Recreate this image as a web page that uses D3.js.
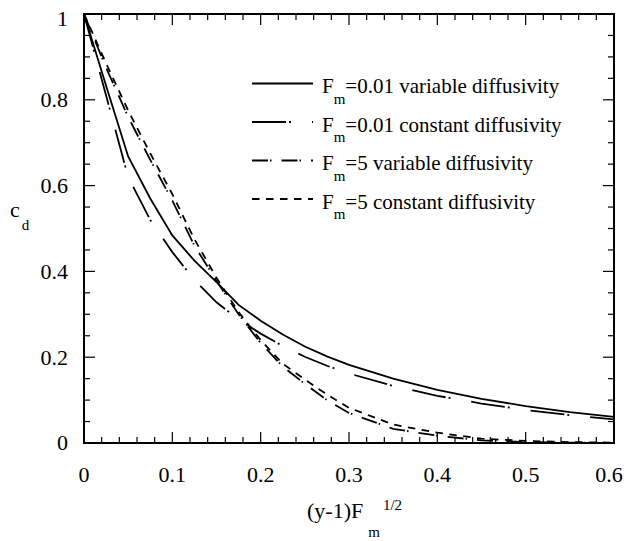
<!DOCTYPE html>
<html>
<head>
<meta charset="utf-8">
<script src="https://d3js.org/d3.v7.min.js"></script>
<style>
  body { margin: 0; background: #fff; }
  svg text { font-family: "Liberation Serif", "Times New Roman", serif; fill: #000; }
</style>
</head>
<body>
<script>
// x positions, (y-1)Fm^1/2
var xGrid = [0, 0.025, 0.05, 0.075, 0.1, 0.125, 0.15, 0.175, 0.2, 0.225, 0.25, 0.275, 0.3, 0.35, 0.4, 0.45, 0.5, 0.55, 0.6];

// c_d for each case
var cLowVar   = [1, 0.833, 0.668, 0.57, 0.484, 0.425, 0.375, 0.322, 0.285, 0.253, 0.225, 0.202, 0.182, 0.150, 0.124, 0.103, 0.086, 0.072, 0.061];
var cLowConst = [1, 0.81, 0.62, 0.52, 0.445, 0.38, 0.328, 0.288, 0.255, 0.226, 0.201, 0.180, 0.162, 0.133, 0.110, 0.092, 0.077, 0.065, 0.055];
var cHighVar   = [1, 0.875, 0.76, 0.66, 0.565, 0.46, 0.378, 0.30, 0.233, 0.178, 0.138, 0.10, 0.07, 0.033, 0.017, 0.006, 0.002, 0.001, 0];
var cHighConst = [1, 0.885, 0.775, 0.675, 0.58, 0.475, 0.385, 0.305, 0.24, 0.185, 0.148, 0.113, 0.082, 0.043, 0.024, 0.010, 0.005, 0.002, 0.001];

var legendValues = ["0.01", "0.01", "5", "5"];
var legendTexts = ["variable diffusivity", "constant diffusivity", "variable diffusivity", "constant diffusivity"];

var xTicks = [0, 0.1, 0.2, 0.3, 0.4, 0.5, 0.6];
var yTicks = [0, 0.2, 0.4, 0.6, 0.8, 1];

var width = 630, height = 541;
var plotLeft = 84, plotRight = 614, plotTop = 14, plotBottom = 443;

var svg = d3.select("body").append("svg")
    .attr("width", width)
    .attr("height", height);

var x = d3.scaleLinear().domain([0, 0.6]).range([plotLeft, plotRight]);
var y = d3.scaleLinear().domain([0, 1]).range([plotBottom, plotTop]);

// dash styles for the four curves
var series = [
    { c: cLowVar, dash: null },
    { c: cLowConst, dash: "34,3,2,21" },
    { c: cHighVar, dash: "16,2,1.5,10" },
    { c: cHighConst, dash: "7.5,6.5" }
];

svg.append("clipPath").attr("id", "plotclip")
  .append("rect")
    .attr("x", plotLeft).attr("y", plotTop)
    .attr("width", plotRight - plotLeft).attr("height", plotBottom - plotTop);

var line = d3.line()
    .x(function(d) { return x(d[0]); })
    .y(function(d) { return y(d[1]); });

var curves = svg.append("g").attr("clip-path", "url(#plotclip)");
series.forEach(function(s) {
    curves.append("path")
        .datum(xGrid.map(function(v, i) { return [v, s.c[i]]; }))
        .attr("fill", "none")
        .attr("stroke", "#000")
        .attr("stroke-width", 1.8)
        .attr("stroke-dasharray", s.dash)
        .attr("d", line);
});

// ticks on all four sides, pointing inward
var xMinor = d3.range(0, 0.6001, 0.02);
var yMinor = d3.range(0, 1.0001, 0.05);

function isMajor(v, step) {
    return Math.abs(v / step - Math.round(v / step)) < 1e-6;
}

var ticks = svg.append("g").attr("stroke", "#000").attr("stroke-width", 1.2);
xMinor.forEach(function(v) {
    var len = isMajor(v, 0.1) ? 11 : 6;
    ticks.append("line").attr("x1", x(v)).attr("x2", x(v)).attr("y1", plotBottom).attr("y2", plotBottom - len);
    ticks.append("line").attr("x1", x(v)).attr("x2", x(v)).attr("y1", plotTop).attr("y2", plotTop + len);
});
yMinor.forEach(function(v) {
    var len = isMajor(v, 0.2) ? 11 : 6;
    ticks.append("line").attr("y1", y(v)).attr("y2", y(v)).attr("x1", plotLeft).attr("x2", plotLeft + len);
    ticks.append("line").attr("y1", y(v)).attr("y2", y(v)).attr("x1", plotRight).attr("x2", plotRight - len);
});

svg.append("rect")
    .attr("x", plotLeft).attr("y", plotTop)
    .attr("width", plotRight - plotLeft).attr("height", plotBottom - plotTop)
    .attr("fill", "none")
    .attr("stroke", "#000")
    .attr("stroke-width", 2);

// tick labels
svg.append("g").selectAll("text")
    .data(xTicks)
    .enter().append("text")
    .attr("x", function(d) { return x(d) - (d === 0.6 ? 5 : 0); })
    .attr("y", 482)
    .attr("text-anchor", "middle")
    .attr("font-size", 22)
    .text(function(d) { return d3.format("")(d); });

svg.append("g").selectAll("text")
    .data(yTicks)
    .enter().append("text")
    .attr("x", 68)
    .attr("y", function(d) { return y(d) + (d === 1 ? 5 : 0); })
    .attr("dy", "0.34em")
    .attr("text-anchor", "end")
    .attr("font-size", 22)
    .text(function(d) { return d3.format("")(d); });

// axis titles
var xt = svg.append("text").attr("x", 307).attr("y", 518).attr("font-size", 22);
xt.append("tspan").text("(y-1)F");
xt.append("tspan").attr("dy", 19).attr("dx", 5).attr("font-size", 15).text("m");
xt.append("tspan").attr("dy", -27).attr("dx", 3).attr("font-size", 15).text("1/2");

var yt = svg.append("text").attr("x", 10).attr("y", 217).attr("font-size", 22);
yt.append("tspan").text("c");
yt.append("tspan").attr("dy", 13).attr("dx", 2).attr("font-size", 15).text("d");

// legend
var legend = svg.append("g");
series.forEach(function(s, i) {
    var ly = 83.5 + i * 38.5;
    legend.append("line")
        .attr("x1", 252).attr("x2", 313)
        .attr("y1", ly).attr("y2", ly)
        .attr("stroke", "#000")
        .attr("stroke-width", 1.8)
        .attr("stroke-dasharray", s.dash);
    var t = legend.append("text").attr("x", 322).attr("y", ly + 9.5).attr("font-size", 21);
    t.append("tspan").text("F");
    t.append("tspan").attr("dy", 10.5).attr("font-size", 15).text("m");
    t.append("tspan").attr("dy", -10.5).text("=" + legendValues[i] + " " + legendTexts[i]);
});
</script>
</body>
</html>
